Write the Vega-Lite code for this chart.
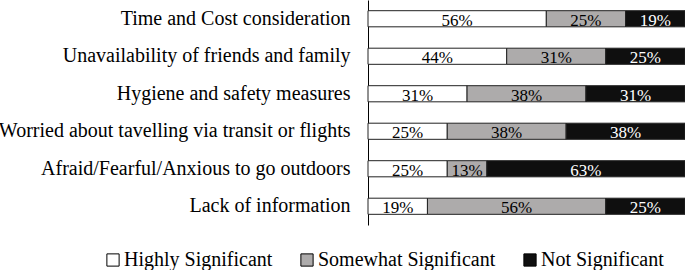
{
  "$schema": "https://vega.github.io/schema/vega-lite/v6.json",
  "width": 317,
  "height": 225,
  "autosize": {"type": "none"},
  "padding": {"left": 368, "top": 0, "right": 0, "bottom": 45},
  "background": "white",
  "config": {
    "view": {"stroke": null},
    "font": "Liberation Serif"
  },
  "data": {
    "values": [
      {"cat": "Time and Cost consideration", "level": "Highly Significant", "ord": 1, "value": 56.25, "label": "56%"},
      {"cat": "Time and Cost consideration", "level": "Somewhat Significant", "ord": 2, "value": 25, "label": "25%"},
      {"cat": "Time and Cost consideration", "level": "Not Significant", "ord": 3, "value": 18.75, "label": "19%"},
      {"cat": "Unavailability of friends and family", "level": "Highly Significant", "ord": 1, "value": 43.75, "label": "44%"},
      {"cat": "Unavailability of friends and family", "level": "Somewhat Significant", "ord": 2, "value": 31.25, "label": "31%"},
      {"cat": "Unavailability of friends and family", "level": "Not Significant", "ord": 3, "value": 25, "label": "25%"},
      {"cat": "Hygiene and safety measures\u00a0", "level": "Highly Significant", "ord": 1, "value": 31.25, "label": "31%"},
      {"cat": "Hygiene and safety measures\u00a0", "level": "Somewhat Significant", "ord": 2, "value": 37.5, "label": "38%"},
      {"cat": "Hygiene and safety measures\u00a0", "level": "Not Significant", "ord": 3, "value": 31.25, "label": "31%"},
      {"cat": "Worried about tavelling via transit or flights", "level": "Highly Significant", "ord": 1, "value": 25, "label": "25%"},
      {"cat": "Worried about tavelling via transit or flights", "level": "Somewhat Significant", "ord": 2, "value": 37.5, "label": "38%"},
      {"cat": "Worried about tavelling via transit or flights", "level": "Not Significant", "ord": 3, "value": 37.5, "label": "38%"},
      {"cat": "Afraid/Fearful/Anxious to go outdoors", "level": "Highly Significant", "ord": 1, "value": 25, "label": "25%"},
      {"cat": "Afraid/Fearful/Anxious to go outdoors", "level": "Somewhat Significant", "ord": 2, "value": 12.5, "label": "13%"},
      {"cat": "Afraid/Fearful/Anxious to go outdoors", "level": "Not Significant", "ord": 3, "value": 62.5, "label": "63%"},
      {"cat": "Lack of information", "level": "Highly Significant", "ord": 1, "value": 18.75, "label": "19%"},
      {"cat": "Lack of information", "level": "Somewhat Significant", "ord": 2, "value": 56.25, "label": "56%"},
      {"cat": "Lack of information", "level": "Not Significant", "ord": 3, "value": 25, "label": "25%"}
    ]
  },
  "transform": [
    {"stack": "value", "groupby": ["cat"], "sort": [{"field": "ord"}], "as": ["v0", "v1"]},
    {"calculate": "(datum.v0 + datum.v1) / 2", "as": "mid"}
  ],
  "encoding": {
    "y": {
      "field": "cat",
      "type": "nominal",
      "sort": null,
      "scale": {"paddingInner": 0.57, "paddingOuter": 0.285},
      "axis": {
        "title": null,
        "ticks": false,
        "labelFont": "Liberation Serif",
        "labelFontSize": 20,
        "labelColor": "#000",
        "labelPadding": 18,
        "labelLimit": 400,
        "domainColor": "#000",
        "domainWidth": 1
      }
    }
  },
  "layer": [
    {
      "mark": {"type": "bar", "stroke": "#222", "strokeWidth": 1},
      "encoding": {
        "x": {"field": "v0", "type": "quantitative", "scale": {"domain": [0, 100], "nice": false}, "axis": null},
        "x2": {"field": "v1"},
        "color": {
          "field": "level",
          "type": "nominal",
          "scale": {
            "domain": ["Highly Significant", "Somewhat Significant", "Not Significant"],
            "range": ["#ffffff", "#adabab", "#0f0f0f"]
          },
          "legend": {
            "title": null,
            "orient": "none",
            "direction": "horizontal",
            "legendX": -265,
            "legendY": 250,
            "symbolType": "square",
            "symbolSize": 150,
            "symbolStrokeColor": "#000",
            "symbolStrokeWidth": 1,
            "labelFont": "Liberation Serif",
            "labelFontSize": 20,
            "labelColor": "#000",
            "labelOffset": 1,
            "columnPadding": 24,
            "labelLimit": 300
          }
        }
      }
    },
    {
      "mark": {"type": "text", "font": "Liberation Serif", "fontSize": 17, "baseline": "alphabetic", "dy": 7},
      "encoding": {
        "x": {"field": "mid", "type": "quantitative"},
        "text": {"field": "label"},
        "color": {
          "condition": {"test": "datum.ord === 3", "value": "#ffffff"},
          "value": "#000000"
        }
      }
    }
  ]
}
